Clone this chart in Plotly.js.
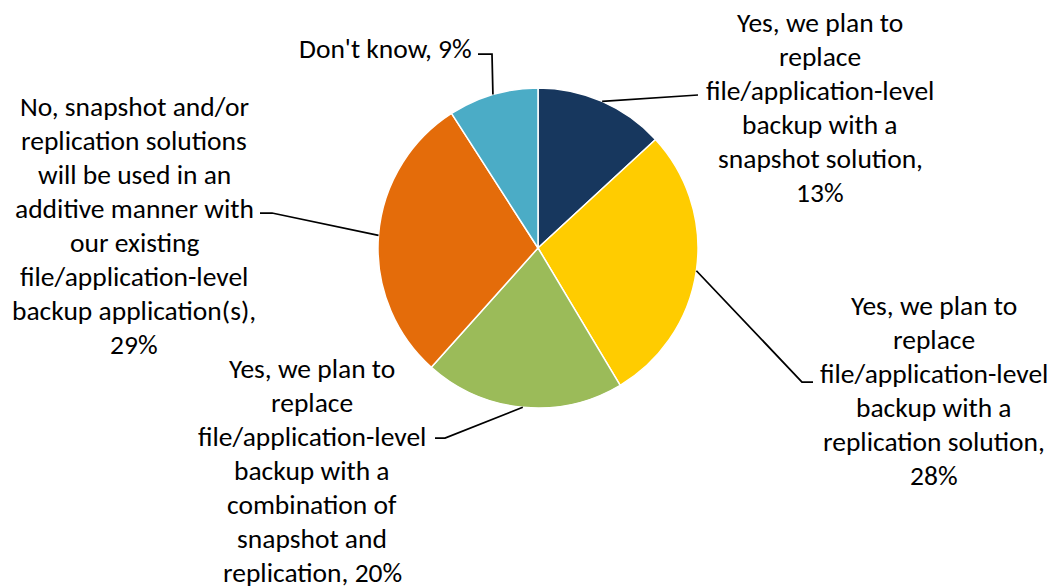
<!DOCTYPE html>
<html>
<head>
<meta charset="utf-8">
<script src="https://cdn.plot.ly/plotly-3.0.1.min.js"></script>
<style>html,body{margin:0;padding:0;background:#fff;}#chart{width:1056px;height:586px;}</style>
</head>
<body>
<div id="chart"></div>
<script>
// ---- data ----
const categories = [
  "Yes, we plan to<br>replace<br>file/application-level<br>backup with a<br>snapshot solution",
  "Yes, we plan to<br>replace<br>file/application-level<br>backup with a<br>replication solution",
  "Yes, we plan to<br>replace<br>file/application-level<br>backup with a<br>combination of<br>snapshot and<br>replication",
  "No, snapshot and/or<br>replication solutions<br>will be used in an<br>additive manner with<br>our existing<br>file/application-level<br>backup application(s)",
  "Don't know"
];
const values = [13, 28, 20, 29, 9];
const joiners = [",<br>", ",<br>", ", ", ",<br>", ", "];
const colors = ["#17375E", "#FFCC00", "#9BBB59", "#E46C0A", "#4BACC6"];

// ---- layout geometry (pixels) ----
const W = 1056, H = 586;
const cx = 538, cy = 248, R = 160;
const LINE = 34.1;
const px = x => x / W;
const py = y => 1 - y / H;

// label block center x, first-line y and leader-line elbow/end points
const labelPos = [
  {x: 820, y0: 22,  path: [[698, 95]]},
  {x: 934, y0: 305, path: [[802, 382], [813, 382]]},
  {x: 312, y0: 368, path: [[445, 438], [435, 438]]},
  {x: 134, y0: 106, path: [[272, 213], [260, 213]]},
  {x: 385, y0: 48,  path: [[492, 54], [478, 54]]}
];

const total = values.reduce((a, b) => a + b, 0);
const FONT = "Carlito, Calibri, Lato, 'Liberation Sans', sans-serif";

const annotations = [];
const shapes = [];
let cum = 0;
values.forEach((v, i) => {
  const mid = (cum + v / 2) / total * 2 * Math.PI; // clockwise from top
  cum += v;
  const sx = cx + R * Math.sin(mid);
  const sy = cy - R * Math.cos(mid);
  const pts = [[sx, sy]].concat(labelPos[i].path);
  let d = "M " + px(pts[0][0]) + " " + py(pts[0][1]);
  for (let k = 1; k < pts.length; k++) d += " L " + px(pts[k][0]) + " " + py(pts[k][1]);
  shapes.push({type: "path", xref: "paper", yref: "paper", path: d,
               line: {color: "#000000", width: 1.75}});
  const lines = (categories[i] + joiners[i] + v + "%").split("<br>");
  lines.forEach((t, k) => {
    annotations.push({
      xref: "paper", yref: "paper",
      x: px(labelPos[i].x), y: py(labelPos[i].y0 + k * LINE),
      xanchor: "center", yanchor: "middle", align: "center",
      showarrow: false,
      text: t,
      font: {family: FONT, size: 27.5, color: "#000000"}
    });
  });
});

const trace = {
  type: "pie",
  labels: categories,
  values: values,
  sort: false,
  direction: "clockwise",
  rotation: 0,
  textinfo: "none",
  hoverinfo: "label+percent",
  marker: {colors: colors, line: {color: "#FFFFFF", width: 1.5}},
  domain: {x: [px(cx - R), px(cx + R)], y: [py(cy + R), py(cy - R)]},
  showlegend: false
};

const layout = {
  width: W, height: H,
  margin: {l: 0, r: 0, t: 0, b: 0},
  paper_bgcolor: "#FFFFFF",
  plot_bgcolor: "#FFFFFF",
  showlegend: false,
  annotations: annotations,
  shapes: shapes
};

Plotly.newPlot("chart", [trace], layout, {displayModeBar: false, staticPlot: true});
</script>
</body>
</html>
